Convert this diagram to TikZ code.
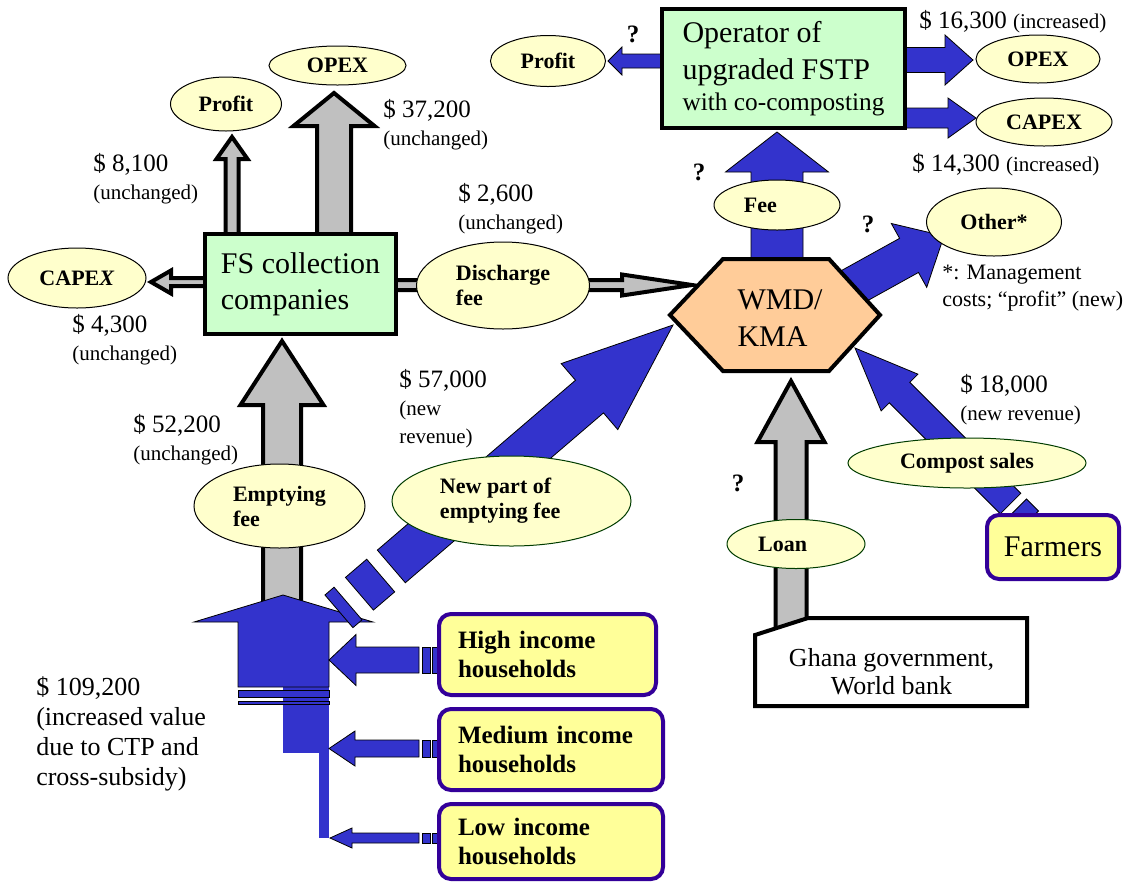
\documentclass[tikz,border=0pt]{standalone}
\usepackage{fontspec}
\setmainfont{Liberation Serif}
\usetikzlibrary{shapes.geometric}
\newcommand{\myfs}[2]{\fontsize{#1}{#2}\selectfont}
\newcommand{\smalltxt}{\myfs{15.75}{21}}
\def\pxu{0.75pt}
\definecolor{bblue}{RGB}{51,51,204}
\definecolor{agray}{RGB}{192,192,192}
\definecolor{boxgreen}{RGB}{204,255,204}
\definecolor{elly}{RGB}{255,255,204}
\definecolor{hhy}{RGB}{255,255,153}
\definecolor{hhborder}{RGB}{51,0,153}
\definecolor{hexfill}{RGB}{255,204,153}
\definecolor{ellgreen}{RGB}{0,60,0}
% #1 style, #2 tip, #3 angle, #4 length, #5 shaft width, #6 head width, #7 head length
\newcommand{\fatarrow}[7]{%
  \begin{scope}[shift={#2},rotate=#3]
    \path[#1] (0,0) -- (-#7,#6/2) -- (-#7,#5/2) -- (-#4,#5/2) -- (-#4,-#5/2) -- (-#7,-#5/2) -- (-#7,-#6/2) -- cycle;
  \end{scope}}
\tikzset{
  grayarr/.style={fill=agray, draw=black, line width=3pt},
  bluearr/.style={fill=bblue, draw=black, line width=0.6pt},
  bluefill/.style={fill=bblue},
  ell/.style={ellipse, draw=black, line width=0.75pt, fill=elly, inner sep=0pt, font=\myfs{16.5}{18.75}\bfseries, align=left},
  ellg/.style={ell, draw=ellgreen},
  val/.style={anchor=west, inner sep=0pt, align=left, font=\myfs{18.75}{21}},
  qm/.style={font=\myfs{18.75}{21}\bfseries, inner sep=0pt},
  greenbox/.style={rectangle, draw=black, line width=3pt, fill=boxgreen, inner sep=0pt},
  hhbox/.style={rectangle, rounded corners=9pt, draw=hhborder, line width=3pt, fill=hhy, align=left, font=\myfs{18.75}{21.75}\bfseries, inner xsep=19*\pxu, inner ysep=0pt},
}
\begin{document}
\begin{tikzpicture}[x=\pxu, y=-\pxu, line join=miter]
\fill[white] (0,0) rectangle (1136,883);
\useasboundingbox (0,0) rectangle (1136,883);

% arrow tips
\coordinate (tFSprofit) at (232,137);
\coordinate (tFSopex) at (334,93);
\coordinate (tFScapex) at (151,282);
\coordinate (tDis) at (692,285);
\coordinate (tEmp) at (282,341);
\coordinate (tLoan) at (791,381);
\coordinate (tFee) at (777,132);
\coordinate (tOpProfit) at (608,61);
\coordinate (tOpOpex) at (973,60);
\coordinate (tOpCapex) at (976,118);
\coordinate (tOther) at (944,236);
\coordinate (tNew) at (673,325);
\coordinate (tCompost) at (855,348);
\coordinate (tHigh) at (329,660);
\coordinate (tMed) at (329,748.5);
\coordinate (tLow) at (330,838);

% gray arrows
\fatarrow{grayarr}{(tFSprofit)}{90}{100}{13}{31}{22}
\fatarrow{grayarr}{(tFSopex)}{90}{144}{34}{81}{33}
\fatarrow{grayarr}{(tFScapex)}{180}{57}{8}{23}{20}
\fatarrow{grayarr}{(tDis)}{0}{297}{10}{21}{70}
\fatarrow{grayarr}{(tEmp)}{90}{270}{38}{83}{64}
\fatarrow{grayarr}{(tLoan)}{90}{259}{31}{67}{61}

% blue arrows
\fatarrow{bluearr}{(tFee)}{90}{133}{52}{103}{40}
\fatarrow{bluearr}{(tOpProfit)}{180}{57}{14}{28}{14}
\fatarrow{bluearr}{(tOpOpex)}{0}{71}{25}{50}{28}
\fatarrow{bluearr}{(tOpCapex)}{0}{74}{20}{40}{28}
\fatarrow{bluearr}{(tOther)}{29}{120}{39}{73}{40}
\fatarrow{bluearr}{(tCompost)}{135}{220}{29}{52}{63}
\begin{scope}[shift={(tCompost)}, rotate=135]
  \path[bluearr] (-228,-14.5) rectangle (-245,14.5);
\end{scope}

% collector shape
\path[bluefill] (283,687) rectangle (329,753);
\path[bluefill] (319,753) rectangle (329,838);
\path[bluearr] (283,595) -- (373,622) -- (329,622) -- (329,687) -- (238,687) -- (238,622) -- (194,622) -- cycle;
\path[bluearr] (238,690) rectangle (329,697);
\path[bluearr] (238,701) rectangle (329,704);

% new part of emptying fee arrow
\fatarrow{bluearr}{(tNew)}{40.6}{371}{43}{87}{110}
\begin{scope}[shift={(tNew)}, rotate=40.6]
  \path[bluearr] (-385,-21.5) rectangle (-413,21.5);
  \path[bluearr] (-428,-21.5) rectangle (-440,21.5);
\end{scope}

% household arrows
\fatarrow{bluearr}{(tHigh)}{180}{90}{26}{51}{27}
\path[bluearr] (422,647) rectangle (430,673);
\path[bluearr] (432,647) rectangle (437,673);
\fatarrow{bluearr}{(tMed)}{180}{90}{17}{35}{26}
\path[bluearr] (422,740) rectangle (430,757);
\path[bluearr] (432,740) rectangle (437,757);
\fatarrow{bluearr}{(tLow)}{180}{89}{10}{20}{22}
\path[bluearr] (422,833) rectangle (430,843);
\path[bluearr] (432,833) rectangle (437,843);

% boxes
\node[greenbox, minimum width=191*\pxu, minimum height=100*\pxu, align=left, font=\myfs{22.5}{27}] (fs) at (300.5,284) {FS collection\\companies};
\node[greenbox, minimum width=243*\pxu, minimum height=119*\pxu, align=left, font=\myfs{22.5}{27.75}] (op) at (783.5,68.5) {Operator of\\upgraded FSTP\\[-4pt]{\myfs{19}{23}with co-composting}};

\path[draw=black, line width=3pt, fill=hexfill] (723,259) -- (829,259) -- (880,315) -- (829,371) -- (723,371) -- (670,315) -- cycle;
\node[align=left, font=\myfs{22.5}{28}, inner sep=0pt] (wmd) at (780,318) {WMD/\\KMA};

\path[draw=black, line width=3pt, fill=white] (755,635) -- (808,618) -- (1027,618) -- (1027,706) -- (755,706) -- cycle;
\node[align=center, font=\myfs{19.5}{21}, inner sep=0pt] (gov) at (891.5,672) {Ghana government,\\World bank};

\node[hhbox, text width=179*\pxu, minimum height=81*\pxu] (hh1) at (547.5,654.5) {High income\\households};
\node[hhbox, text width=186*\pxu, minimum height=81*\pxu] (hh2) at (551,749.5) {Medium income\\households};
\node[hhbox, text width=186*\pxu, minimum height=75*\pxu] (hh3) at (551,841.5) {Low income\\households};
\node[rectangle, rounded corners=9pt, draw=hhborder, line width=3pt, fill=hhy, minimum width=132*\pxu, minimum height=64*\pxu, inner sep=0pt, font=\myfs{22.5}{27}] (farm) at (1053,547) {Farmers};

% ellipses
\node[ell, minimum width=111*\pxu, minimum height=54*\pxu] (eProfit1) at (226,104) {Profit};
\node[ell, minimum width=137*\pxu, minimum height=39*\pxu] (eOpex1) at (337.5,65.5) {OPEX};
\node[ell, minimum width=138*\pxu, minimum height=60*\pxu] (eCapex1) at (77,278) {CAPE\textit{X}};
\node[ell, minimum width=173*\pxu, minimum height=87*\pxu] (eDis) at (503,285.5) {Discharge\\fee};
\node[ell, minimum width=171*\pxu, minimum height=84*\pxu] (eEmp) at (279.5,506) {Emptying\\fee};
\node[ellg, minimum width=239*\pxu, minimum height=90*\pxu] (eNew) at (511.5,501) {\hspace*{-17pt}New part of\\\hspace*{-17pt}emptying fee};
\node[ell, minimum width=115*\pxu, minimum height=51*\pxu] (eProfit2) at (548,61) {Profit};
\node[ell, minimum width=124*\pxu, minimum height=48*\pxu] (eOpex2) at (1038,59) {OPEX};
\node[ell, minimum width=136*\pxu, minimum height=48*\pxu] (eCapex2) at (1044,122) {CAPEX};
\node[ell, minimum width=126*\pxu, minimum height=50*\pxu] (eFee) at (777,205) {\hspace*{-25pt}Fee};
\node[ell, minimum width=135*\pxu, minimum height=68*\pxu] (eOther) at (994,222) {Other*};
\node[ellg, minimum width=238*\pxu, minimum height=50*\pxu] (eCompost) at (967,463) {Compost sales};
\node[ellg, minimum width=138*\pxu, minimum height=49*\pxu] (eLoan) at (796,544) {\hspace*{-20pt}Loan};

% value labels
\node[val] (v1) at (93,179) {\$ 8,100\\{\smalltxt (unchanged)}};
\node[val] (v2) at (383,125) {\$ 37,200\\{\smalltxt (unchanged)}};
\node[val] (v3) at (458,209) {\$ 2,600\\{\smalltxt (unchanged)}};
\node[val] (v4) at (72,340) {\$ 4,300\\{\smalltxt (unchanged)}};
\node[val] (v5) at (133,440) {\$ 52,200\\{\smalltxt (unchanged)}};
\node[val] (v6) at (399,409) {\$ 57,000\\{\smalltxt (new}\\{\smalltxt revenue)}};
\node[val] (v7) at (919,22) {\$ 16,300 {\smalltxt (increased)}};
\node[val] (v8) at (912,165) {\$ 14,300 {\smalltxt (increased)}};
\node[val] (v9) at (960,400) {\$ 18,000\\{\smalltxt (new revenue)}};
\node[val, font=\myfs{19.5}{22.5}] (v10) at (36,733.5) {\$ 109,200\\(increased value\\due to CTP and\\cross-subsidy)};
\node[val, font=\myfs{16.5}{20}] (v11) at (942,288) {*: Management\\costs; ``profit'' (new)};

% question marks
\node[qm] (q1) at (633,34) {?};
\node[qm] (q2) at (699,172) {?};
\node[qm] (q3) at (868,224) {?};
\node[qm] (q4) at (738,483) {?};
\end{tikzpicture}
\end{document}
